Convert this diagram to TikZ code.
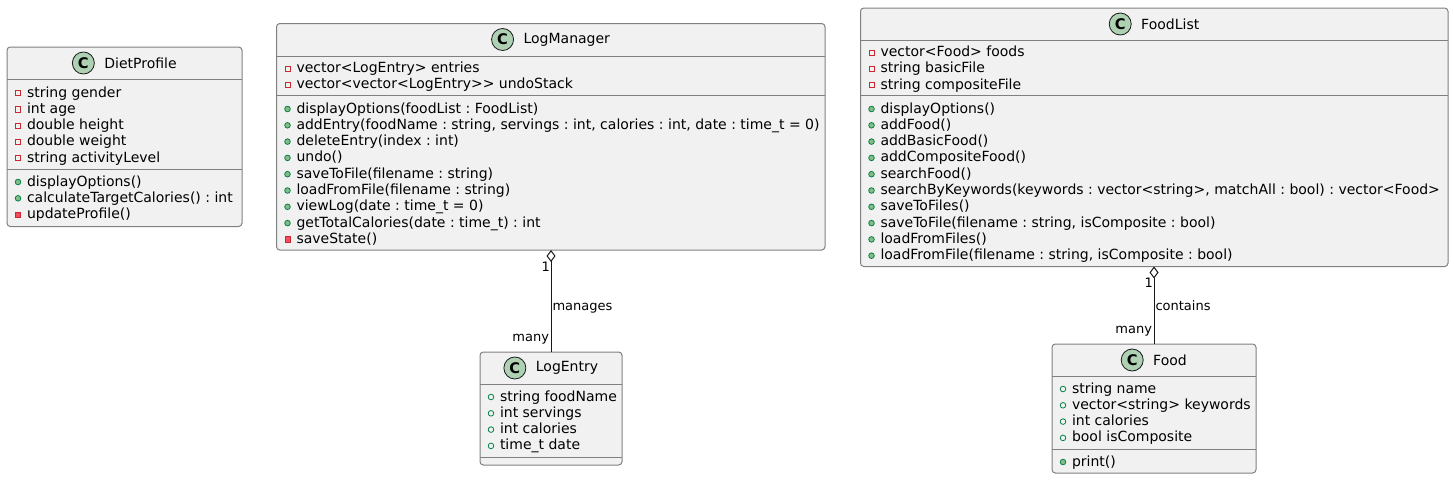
\documentclass[tikz,border=0pt]{standalone}
\usepackage{fontspec}
\setmainfont{DejaVu Sans}
\usetikzlibrary{positioning,arrows.meta,shapes.geometric}

\definecolor{boxfill}{HTML}{F1F1F1}
\definecolor{boxline}{HTML}{181818}
\definecolor{boxedge}{HTML}{808080}
\definecolor{spotfill}{HTML}{ADD1B2}
\definecolor{privline}{HTML}{C82930}
\definecolor{privfill}{HTML}{F24D5C}
\definecolor{publine}{HTML}{038048}
\definecolor{pubfill}{HTML}{84BE84}

\tikzset{
  classbox/.style={draw=boxedge, fill=boxfill, rectangle, rounded corners=2.5pt, line width=0.75pt, inner sep=0pt, outer sep=0pt},
  classtitle/.style={inner sep=0pt, outer sep=0pt, font=\fontsize{10.5}{12}\selectfont},
  spot/.style={draw=boxline, fill=spotfill, circle, line width=0.6pt, minimum size=16.5pt, inner sep=0pt, outer sep=0pt, font=\fontsize{11}{12}\selectfont\bfseries},
  membertext/.style={anchor=base west, inner sep=0pt, outer sep=0pt, font=\fontsize{10.5}{12}\selectfont\frenchspacing},
  privattr/.style={draw=privline, rectangle, line width=0.6pt, minimum size=3.9pt, inner sep=0pt},
  privmeth/.style={draw=privline, fill=privfill, rectangle, line width=0.6pt, minimum size=3.9pt, inner sep=0pt},
  pubattr/.style={draw=publine, circle, line width=0.6pt, minimum size=4.2pt, inner sep=0pt},
  pubmeth/.style={draw=publine, fill=pubfill, circle, line width=0.6pt, minimum size=4.2pt, inner sep=0pt},
  relation/.style={line width=0.75pt, draw=boxline},
  rellabel/.style={inner sep=0pt, outer sep=0pt, font=\fontsize{9.75}{11}\selectfont}
}

% name, left, top, right, bottom, title
\newcommand{\classnode}[6]{
  \node[classbox, minimum width={(#4-#2)*0.75pt}, minimum height={(#5-#3)*0.75pt}] (#1) at ({(#2+#4)/2},{(#3+#5)/2}) {};
  \node[classtitle] (#1title) at ({(#2+#4)/2+16},#3+16) {#6};
  \node[spot, left=7.5pt of #1title] (#1spot) {C};
}
% name, y of a separator
\newcommand{\classrule}[2]{
  \draw[line width=0.75pt, draw=boxedge] (#1.west |- 0,#2) -- (#1.east |- 0,#2);
}
% name, left, first row centre, list of kind/text
\newcommand{\classrows}[4]{
  \foreach \kind/\txt [count=\i] in {#4} {
    \node[\kind] (#1icon#3\i) at (#2+11,{#3+1+(\i-1)*16.3}) {};
    \node[membertext] (#1row#3\i) at (#2+20,{#3+5+(\i-1)*16.3}) {\txt};
  }
}

\begin{document}
\begin{tikzpicture}[x=0.75pt,y=-0.75pt]
  \useasboundingbox (0,0) rectangle (1454,479);

  % DietProfile
  \classnode{dietprofile}{7}{47}{242}{226.5}{DietProfile}
  \classrule{dietprofile}{79.5}
  \classrule{dietprofile}{169}
  \classrows{dietprofile}{7}{92}{privattr/string gender, privattr/int age, privattr/double height, privattr/double weight, privattr/string activityLevel}
  \classrows{dietprofile}{7}{181}{pubmeth/displayOptions(), pubmeth/calculateTargetCalories() : int, privmeth/updateProfile()}

  % LogManager
  \classnode{logmanager}{276.5}{23.5}{825}{250}{LogManager}
  \classrule{logmanager}{56}
  \classrule{logmanager}{95.5}
  \classrows{logmanager}{276.5}{67.5}{privattr/vector<LogEntry> entries, privattr/vector<vector<LogEntry>{}> undoStack}
  \classrows{logmanager}{276.5}{108}{pubmeth/displayOptions(foodList : FoodList), pubmeth/addEntry(foodName : string{,} servings : int{,} calories : int{,} date : time\_t = 0), pubmeth/deleteEntry(index : int), pubmeth/undo(), pubmeth/saveToFile(filename : string), pubmeth/loadFromFile(filename : string), pubmeth/viewLog(date : time\_t = 0), pubmeth/getTotalCalories(date : time\_t) : int, privmeth/saveState()}

  % LogEntry
  \classnode{logentry}{480}{352}{622}{465}{LogEntry}
  \classrule{logentry}{384}
  \classrule{logentry}{457}
  \classrows{logentry}{480}{396}{pubattr/string foodName, pubattr/int servings, pubattr/int calories, pubattr/time\_t date}

  % FoodList
  \classnode{foodlist}{860.5}{8}{1448}{266.5}{FoodList}
  \classrule{foodlist}{40}
  \classrule{foodlist}{95.5}
  \classrows{foodlist}{860.5}{51.5}{privattr/vector<Food> foods, privattr/string basicFile, privattr/string compositeFile}
  \classrows{foodlist}{860.5}{108}{pubmeth/displayOptions(), pubmeth/addFood(), pubmeth/addBasicFood(), pubmeth/addCompositeFood(), pubmeth/searchFood(), pubmeth/searchByKeywords(keywords : vector<string>{,} matchAll : bool) : vector<Food>, pubmeth/saveToFiles(), pubmeth/saveToFile(filename : string{,} isComposite : bool), pubmeth/loadFromFiles(), pubmeth/loadFromFile(filename : string{,} isComposite : bool)}

  % Food
  \classnode{food}{1052}{344}{1256}{473}{Food}
  \classrule{food}{376}
  \classrule{food}{449.5}
  \classrows{food}{1052}{388}{pubattr/string name, pubattr/vector<string> keywords, pubattr/int calories, pubattr/bool isComposite}
  \classrows{food}{1052}{461}{pubmeth/print()}

  % Relations
  \draw[relation, {Diamond[open,length=9pt,width=6.75pt,line width=0.75pt]}-] (logmanager.south -| logentry.north) -- (logentry.north);
  \node[rellabel, anchor=base east] (logmanagerone) at (550,271) {1};
  \node[rellabel, anchor=base west] (logmanagerlabel) at (552.5,310) {manages};
  \node[rellabel, anchor=base east] (logentrymany) at (549,341) {many};

  \draw[relation, {Diamond[open,length=9pt,width=6.75pt,line width=0.75pt]}-] (foodlist.south -| food.north) -- (food.north);
  \node[rellabel, anchor=base east] (foodlistone) at (1153,287) {1};
  \node[rellabel, anchor=base west] (foodlistlabel) at (1155.5,310) {contains};
  \node[rellabel, anchor=base east] (foodmany) at (1152,333) {many};
\end{tikzpicture}
\end{document}
